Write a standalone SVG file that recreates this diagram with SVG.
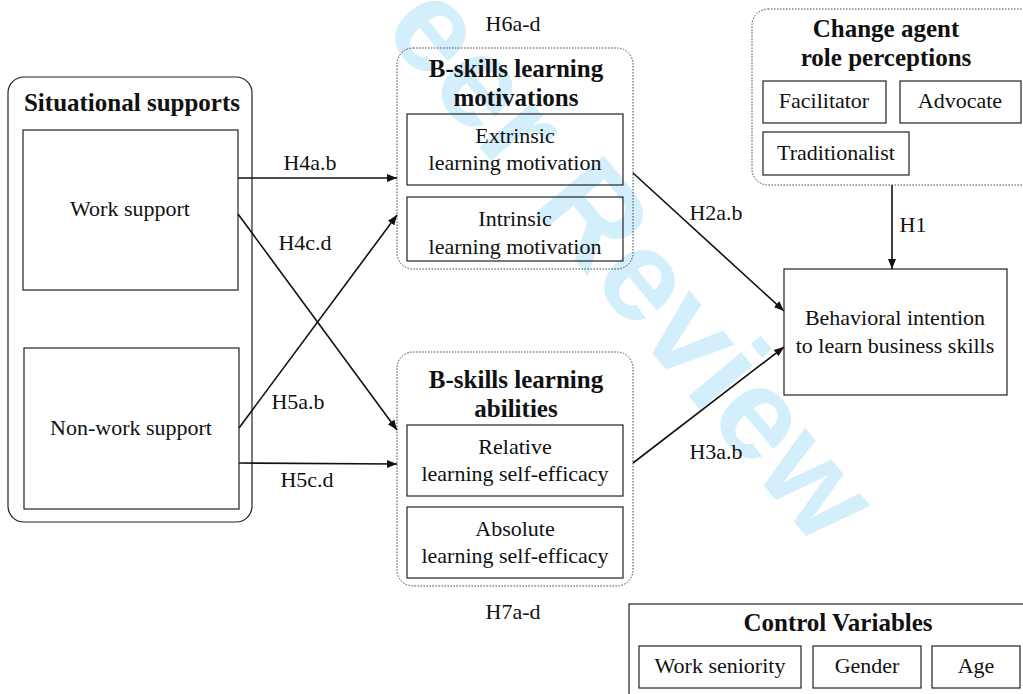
<svg xmlns="http://www.w3.org/2000/svg" width="1023" height="694" viewBox="0 0 1023 694">
<defs>
<style>
text{font-family:'Liberation Serif','Times New Roman',Times,serif}
.t{font-size:22px;fill:#111;text-anchor:middle}
.b{font-size:25px;font-weight:bold;fill:#111;text-anchor:middle}
.box{fill:none;stroke:#222;stroke-width:1.2}
.dot{fill:none;stroke:#444;stroke-width:1;stroke-dasharray:1.5,1.5}
.ln{fill:none;stroke:#111;stroke-width:1.6}
text.wm{font-family:'Liberation Sans',Arial,sans-serif;font-size:130px;font-weight:bold;fill:#d3effc}
</style>
<marker id="ah" viewBox="0 0 10 10" refX="10" refY="5" markerWidth="10" markerHeight="10" markerUnits="userSpaceOnUse" orient="auto">
<path d="M0,1 L10,5 L0,9 Z" fill="#111"/>
</marker>
</defs>
<rect width="1023" height="694" fill="#fff"/>
<text class="wm" transform="translate(325,-37) rotate(50)">Peer Review</text>

<g id="situational">
<rect class="box" x="8" y="77" width="244" height="445" rx="16"/>
<text class="b" x="132" y="111">Situational supports</text>
</g>
<g id="work-support">
<rect class="box" x="23" y="130" width="215" height="160"/>
<text class="t" x="130" y="216">Work support</text>
</g>
<g id="nonwork-support">
<rect class="box" x="24" y="348" width="215" height="161"/>
<text class="t" x="131" y="435">Non-work support</text>
</g>

<g id="motivations">
<rect class="dot" x="397" y="48" width="236" height="221" rx="16"/>
<text class="b" x="516" y="77">B-skills learning</text>
<text class="b" x="516" y="106">motivations</text>
<text class="t" x="513" y="31">H6a-d</text>
</g>
<g id="extrinsic">
<rect class="box" x="407" y="114" width="216" height="71"/>
<text class="t" x="515" y="143">Extrinsic</text>
<text class="t" x="515" y="170">learning motivation</text>
</g>
<g id="intrinsic">
<rect class="box" x="407" y="197" width="216" height="64"/>
<text class="t" x="515" y="226">Intrinsic</text>
<text class="t" x="515" y="254">learning motivation</text>
</g>

<g id="abilities">
<rect class="dot" x="397" y="352" width="236" height="234" rx="16"/>
<text class="b" x="516" y="388">B-skills learning</text>
<text class="b" x="516" y="417">abilities</text>
<text class="t" x="513" y="619">H7a-d</text>
</g>
<g id="relative">
<rect class="box" x="407" y="425" width="216" height="71"/>
<text class="t" x="515" y="454">Relative</text>
<text class="t" x="515" y="481">learning self-efficacy</text>
</g>
<g id="absolute">
<rect class="box" x="407" y="507" width="216" height="71"/>
<text class="t" x="515" y="536">Absolute</text>
<text class="t" x="515" y="563">learning self-efficacy</text>
</g>

<g id="change-agent">
<rect class="dot" x="752" y="9" width="290" height="176" rx="16"/>
<text class="b" x="886" y="37">Change agent</text>
<text class="b" x="886" y="66">role perceptions</text>
</g>
<g id="facilitator">
<rect class="box" x="763" y="81" width="123" height="42"/>
<text class="t" x="824" y="108">Facilitator</text>
</g>
<g id="advocate">
<rect class="box" x="900" y="81" width="121" height="42"/>
<text class="t" x="960" y="108">Advocate</text>
</g>
<g id="traditionalist">
<rect class="box" x="763" y="132" width="146" height="43"/>
<text class="t" x="836" y="160">Traditionalist</text>
</g>

<g id="behavioral">
<rect class="box" x="784" y="269" width="223" height="126"/>
<text class="t" x="895" y="325">Behavioral intention</text>
<text class="t" x="895" y="353">to learn business skills</text>
</g>

<g id="control">
<rect class="box" x="629" y="604" width="410" height="100"/>
<text class="b" x="838" y="631">Control Variables</text>
</g>
<g id="seniority">
<rect class="box" x="639" y="646" width="162" height="42"/>
<text class="t" x="720" y="673">Work seniority</text>
</g>
<g id="gender">
<rect class="box" x="813" y="646" width="108" height="42"/>
<text class="t" x="867" y="673">Gender</text>
</g>
<g id="age">
<rect class="box" x="932" y="646" width="88" height="42"/>
<text class="t" x="976" y="673">Age</text>
</g>

<g id="connectors">
<line class="ln" x1="238" y1="178" x2="397" y2="178" marker-end="url(#ah)"/>
<line class="ln" x1="238" y1="214" x2="397" y2="430" marker-end="url(#ah)"/>
<line class="ln" x1="239" y1="428" x2="397" y2="215" marker-end="url(#ah)"/>
<line class="ln" x1="239" y1="463" x2="397" y2="464" marker-end="url(#ah)"/>
<line class="ln" x1="633" y1="173" x2="784" y2="311" marker-end="url(#ah)"/>
<line class="ln" x1="633" y1="463" x2="784" y2="347" marker-end="url(#ah)"/>
<line class="ln" x1="892" y1="185" x2="892" y2="269" marker-end="url(#ah)"/>
<text class="t" x="310" y="170">H4a.b</text>
<text class="t" x="305" y="250">H4c.d</text>
<text class="t" x="298" y="409">H5a.b</text>
<text class="t" x="307" y="487">H5c.d</text>
<text class="t" x="716" y="220">H2a.b</text>
<text class="t" x="716" y="459">H3a.b</text>
<text class="t" x="913" y="232">H1</text>
</g>
</svg>
